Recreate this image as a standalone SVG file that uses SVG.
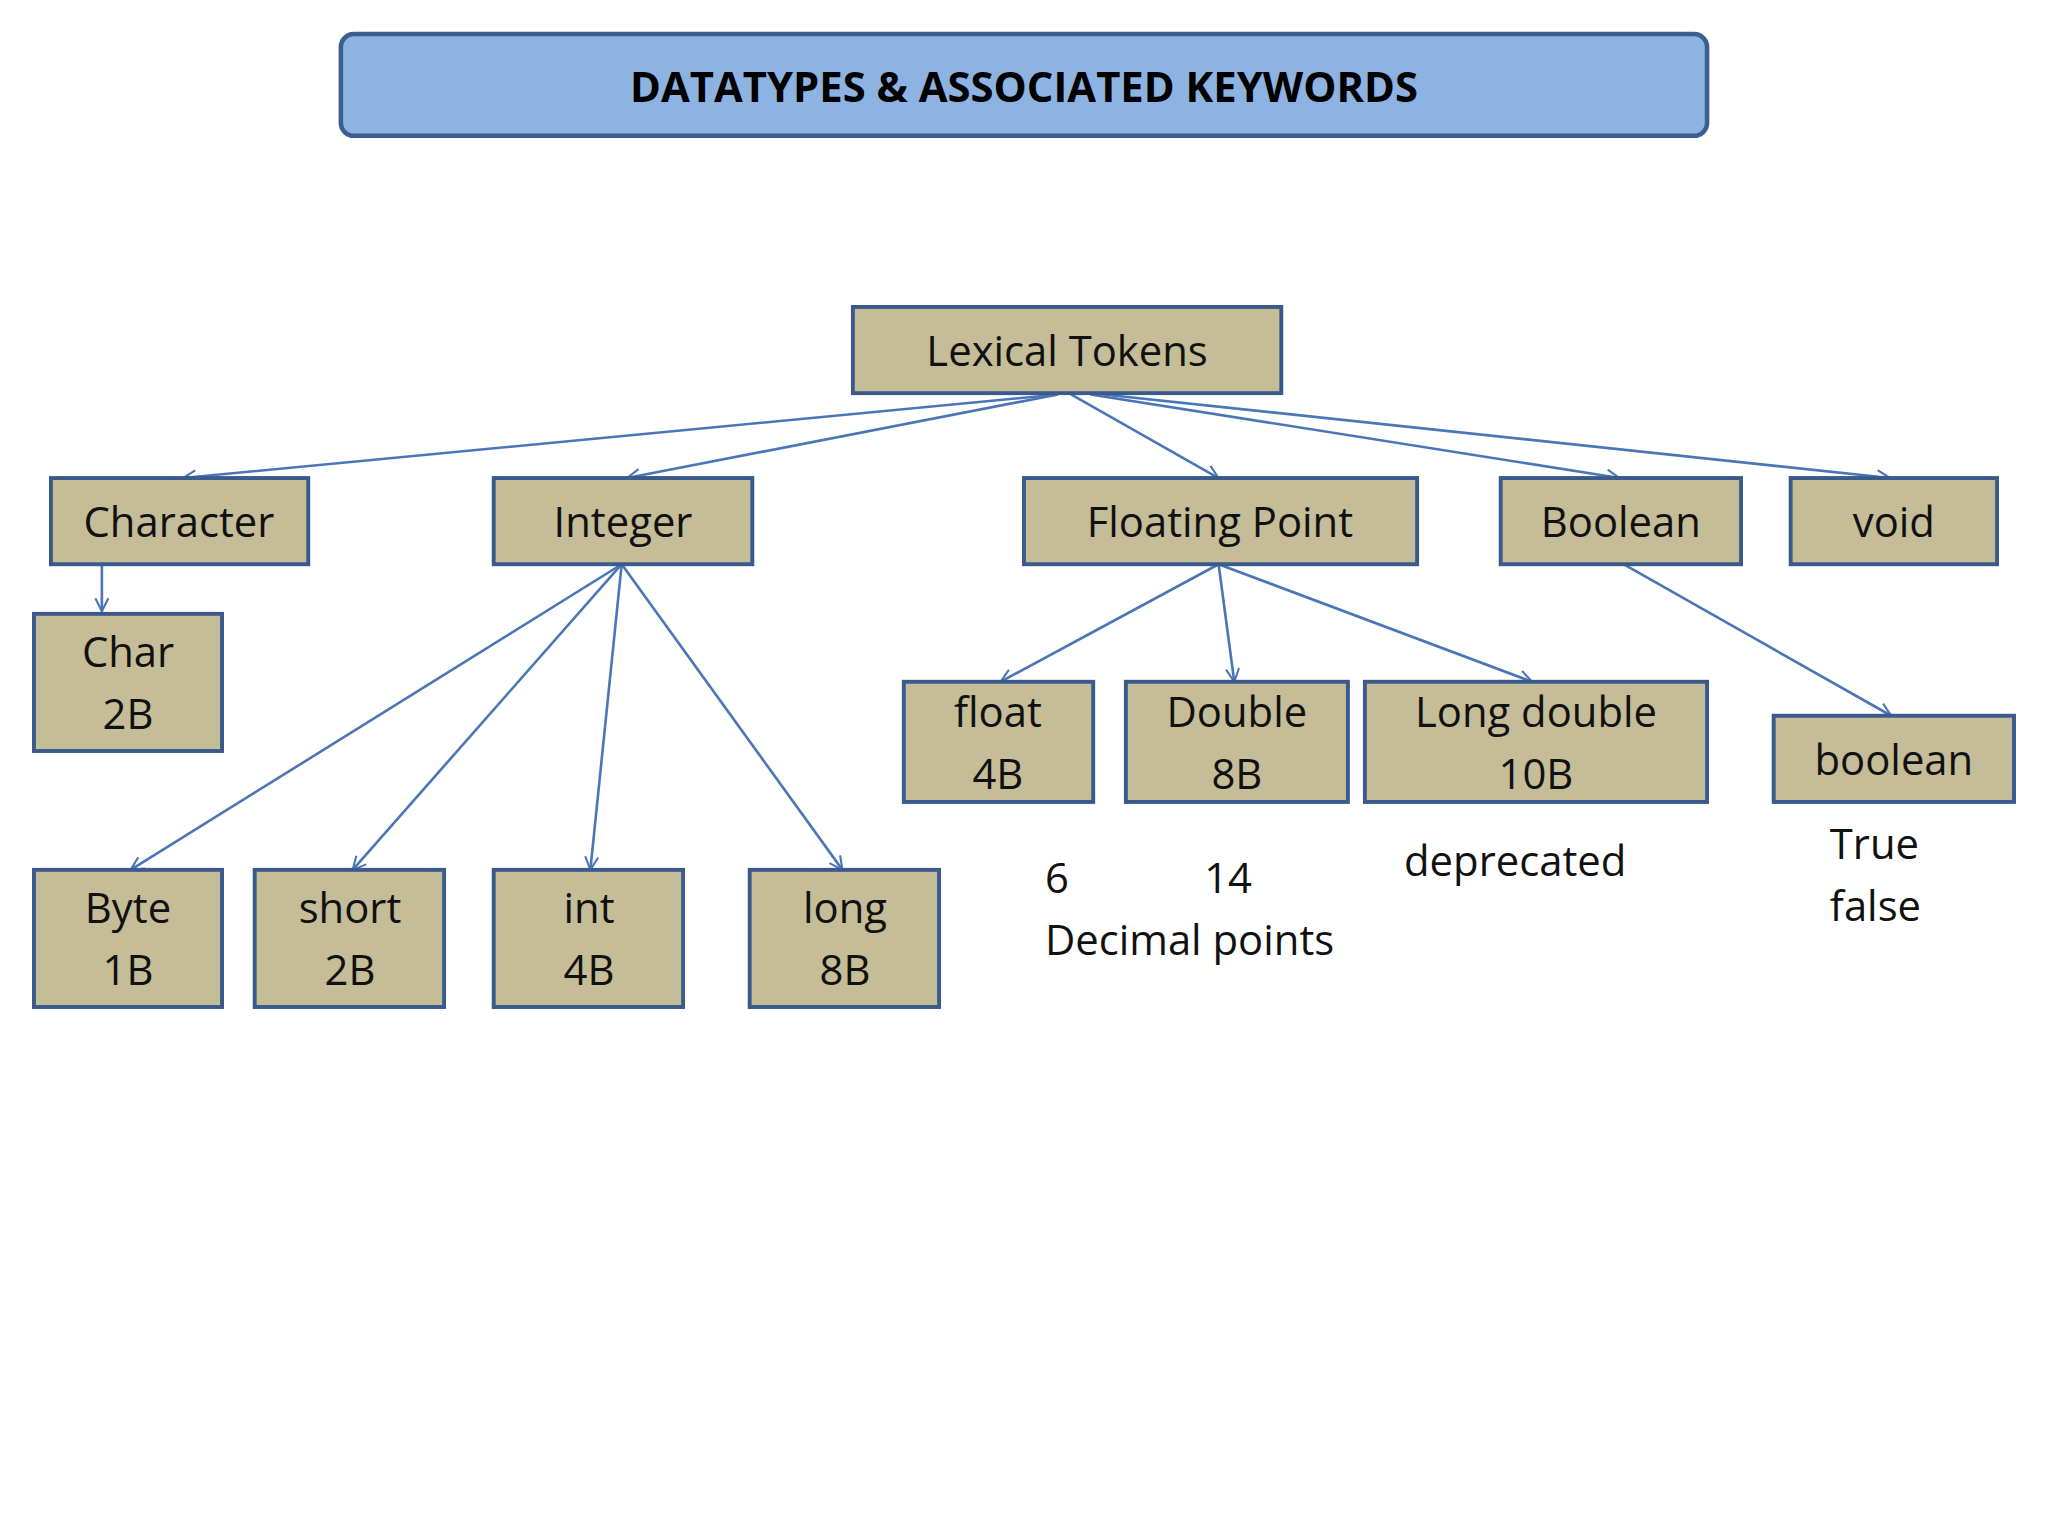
<svg xmlns="http://www.w3.org/2000/svg" width="2048" height="1536" viewBox="0 0 2048 1536">
<style>
.b{fill:#c4bd97;stroke:#3a5a8c;stroke-width:3}
.t{font-family:"Open Sans","Liberation Sans",sans-serif;font-size:32px;fill:#111;text-anchor:middle}
.a{font-family:"Open Sans","Liberation Sans",sans-serif;font-size:32px;fill:#111}
.c line{stroke:#4a76b8;stroke-width:2;marker-end:url(#m)}
</style>
<defs><marker id="m" viewBox="0 0 12 12" refX="11" refY="6" markerWidth="12" markerHeight="12" markerUnits="userSpaceOnUse" orient="auto"><path d="M1,1 L11,6 L1,11" fill="none" stroke="#4a76b8" stroke-width="1.6"/></marker></defs>
<rect width="2048" height="1536" fill="#fff"/>
<g transform="scale(1.3061)">
<g id="title"><rect x="261" y="26" width="1046" height="78" rx="10" fill="#8db3e2" stroke="#3a5f8f" stroke-width="3.5"/><text x="784" y="78" text-anchor="middle" font-family="'Open Sans','Liberation Sans',sans-serif" font-weight="bold" font-size="32">DATATYPES &amp; ASSOCIATED KEYWORDS</text></g>
<g class="c">
<line x1="810" y1="302" x2="140" y2="366"/>
<line x1="810" y1="302" x2="480" y2="366"/>
<line x1="820" y1="302" x2="933" y2="366"/>
<line x1="835" y1="302" x2="1240" y2="366"/>
<line x1="845" y1="302" x2="1447" y2="366"/>
<line x1="78" y1="432" x2="78" y2="468"/>
<line x1="476" y1="432" x2="100" y2="666"/>
<line x1="476" y1="432" x2="270" y2="666"/>
<line x1="476" y1="432" x2="452" y2="666"/>
<line x1="476" y1="432" x2="645" y2="666"/>
<line x1="933" y1="432" x2="766" y2="522"/>
<line x1="933" y1="432" x2="945" y2="522"/>
<line x1="933" y1="432" x2="1173" y2="522"/>
<line x1="1243" y1="432" x2="1448" y2="548"/>
</g>
<g id="lexical"><rect class="b" x="653" y="235" width="328" height="66"/><text class="t" x="817" y="280">Lexical Tokens</text></g>
<g id="character"><rect class="b" x="39" y="366" width="197" height="66"/><text class="t" x="137" y="411">Character</text></g>
<g id="integer"><rect class="b" x="378" y="366" width="198" height="66"/><text class="t" x="477" y="411">Integer</text></g>
<g id="floating"><rect class="b" x="784" y="366" width="301" height="66"/><text class="t" x="934" y="411">Floating Point</text></g>
<g id="boolean-t"><rect class="b" x="1149" y="366" width="184" height="66"/><text class="t" x="1241" y="411">Boolean</text></g>
<g id="void"><rect class="b" x="1371" y="366" width="158" height="66"/><text class="t" x="1450" y="411">void</text></g>
<g id="char"><rect class="b" x="26" y="470" width="144" height="105"/><text class="t" x="98" y="511">Char</text><text class="t" x="98" y="558">2B</text></g>
<g id="byte"><rect class="b" x="26" y="666" width="144" height="105"/><text class="t" x="98" y="707">Byte</text><text class="t" x="98" y="754">1B</text></g>
<g id="short"><rect class="b" x="195" y="666" width="145" height="105"/><text class="t" x="268" y="707">short</text><text class="t" x="268" y="754">2B</text></g>
<g id="int"><rect class="b" x="378" y="666" width="145" height="105"/><text class="t" x="451" y="707">int</text><text class="t" x="451" y="754">4B</text></g>
<g id="long"><rect class="b" x="574" y="666" width="145" height="105"/><text class="t" x="647" y="707">long</text><text class="t" x="647" y="754">8B</text></g>
<g id="float"><rect class="b" x="692" y="522" width="145" height="92"/><text class="t" x="764" y="557">float</text><text class="t" x="764" y="604">4B</text></g>
<g id="double"><rect class="b" x="862" y="522" width="170" height="92"/><text class="t" x="947" y="557">Double</text><text class="t" x="947" y="604">8B</text></g>
<g id="longdouble"><rect class="b" x="1045" y="522" width="262" height="92"/><text class="t" x="1176" y="557">Long double</text><text class="t" x="1176" y="604">10B</text></g>
<g id="boolean"><rect class="b" x="1358" y="548" width="184" height="66"/><text class="t" x="1450" y="593">boolean</text></g>
<g id="notes">
<text class="a" x="800" y="684">6</text><text class="a" x="922" y="684">14</text>
<text class="a" x="800" y="731">Decimal points</text>
<text class="a" x="1075" y="671">deprecated</text>
<text class="a" x="1401" y="658">True</text><text class="a" x="1401" y="705">false</text>
</g>
</g>
</svg>
